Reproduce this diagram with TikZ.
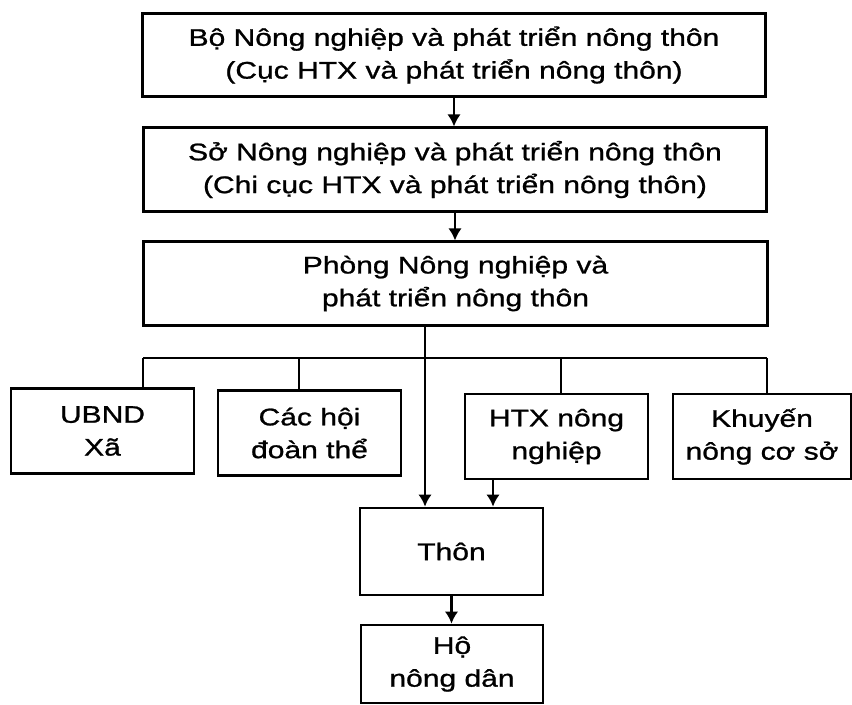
\documentclass[tikz,border=0pt]{standalone}
\usepackage{fontspec}
\setmainfont[FakeStretch=1.25, FakeBold=1]{Liberation Sans}
\usetikzlibrary{arrows.meta}

\begin{document}
\begin{tikzpicture}[x=0.03cm, y=-0.03cm,
    box/.style={draw, line width=2.3pt, inner sep=0pt, align=center, font=\fontsize{20.5}{28}\selectfont},
    wide/.style={box, minimum width=18.7cm, minimum height=2.5cm},
    unit/.style={box, minimum width=5.49cm, minimum height=2.55cm},
    link/.style={line width=1.9pt},
    arr/.style={link, -{Latex[length=3.6mm,width=4mm]}}]
    \useasboundingbox (0,0) rectangle (852,704);
    % ministry down to district
    \node[wide] (bo) at (454,55) {Bộ Nông nghiệp và phát triển nông thôn\\(Cục HTX và phát triển nông thôn)};
    \node[wide] (so) at (455,169.5) {Sở Nông nghiệp và phát triển nông thôn\\(Chi cục HTX và phát triển nông thôn)};
    \node[wide] (phong) at (455.5,283.5) {Phòng Nông nghiệp và\\phát triển nông thôn};
    % commune level
    \node[unit] (ubnd) at (102.5,431) {UBND\\Xã};
    \node[unit] (hoi) at (309.5,433) {Các hội\\đoàn thể};
    \node[unit] (htx) at (556.5,436.5) {HTX nông\\nghiệp};
    \node[unit, minimum width=5.34cm] (khuyen) at (762,436.5) {Khuyến\\nông cơ sở};
    % village and household
    \node[unit, minimum height=2.61cm] (thon) at (451.5,551.5) {Thôn};
    \node[unit, minimum width=5.46cm, minimum height=2.34cm] (ho) at (452,664) {Hộ\\nông dân};
    \draw[arr] (bo) -- (bo |- so.north);
    \draw[arr] (so) -- (so |- phong.north);
    \coordinate (stem) at (425,324);
    \coordinate (busL) at (143,358);
    \coordinate (busR) at (767,358);
    \coordinate (bhoi) at (299,358);
    \coordinate (bhtx) at (561,358);
    \coordinate (htxout) at (493,479);
    \draw[link] (busL) -- (busR);
    \draw[link] (busL) -- (busL |- ubnd.north);
    \draw[link] (bhoi) -- (bhoi |- hoi.north);
    \draw[link] (bhtx) -- (bhtx |- htx.north);
    \draw[link] (busR) -- (busR |- khuyen.north);
    \draw[arr] (stem) -- (stem |- thon.north);
    \draw[arr] (htxout) -- (htxout |- thon.north);
    \draw[arr] (thon) -- (thon |- ho.north);
\end{tikzpicture}
\end{document}
